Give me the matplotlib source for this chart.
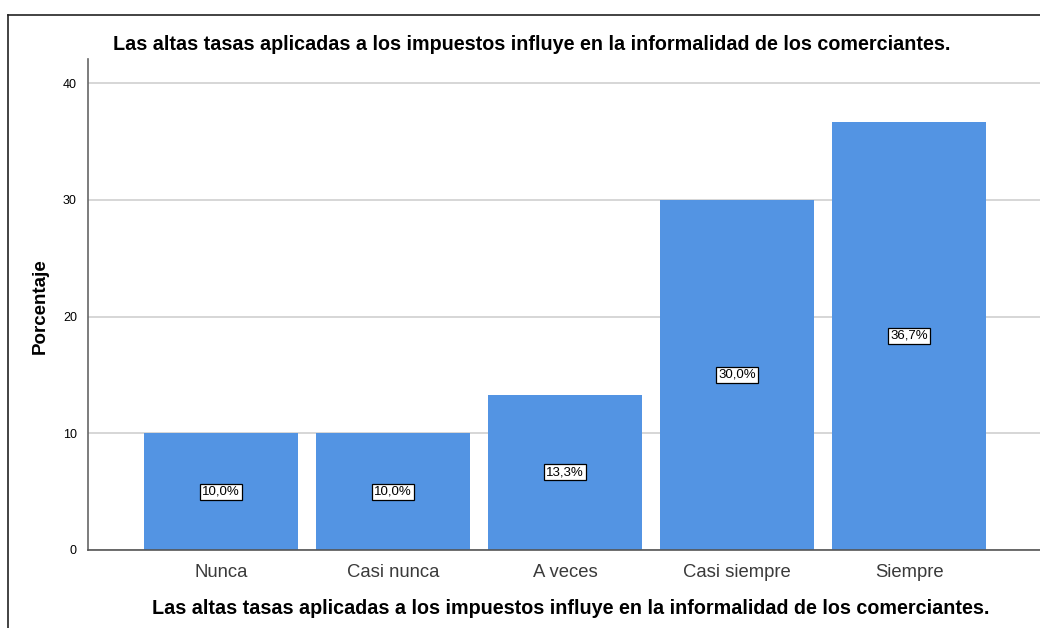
import matplotlib
matplotlib.use("Agg")
import matplotlib.pyplot as plt
from matplotlib.lines import Line2D

categories = ["Nunca", "Casi nunca", "A veces", "Casi siempre", "Siempre"]
values = [10.0, 10.0, 13.3, 30.0, 36.7]
labels = ["10,0%", "10,0%", "13,3%", "30,0%", "36,7%"]
yticks = [0, 10, 20, 30, 40]
title = "Las altas tasas aplicadas a los impuestos influye en la informalidad de los comerciantes."

plt.rcParams['font.family'] = ['Liberation Sans', 'DejaVu Sans']

fig = plt.figure(figsize=(10.4, 6.28), dpi=100)
ax = fig.add_axes([88/1040, 1 - 550/628, 1 - 88/1040, (550 - 59)/628])

x = list(range(len(categories)))
ax.bar(x, values, width=0.895, color="#5394E3", zorder=2)
for xi, v, lab in zip(x, values, labels):
    ax.text(xi, v/2, lab, ha="center", va="center", fontsize=9.5, color="black", zorder=3,
            bbox=dict(boxstyle="square,pad=0.15", fc="white", ec="black", lw=0.9))

ax.set_xlim(-0.773, 4.76)
ax.set_ylim(0, 42.06)
ax.set_yticks(yticks)
ax.set_yticklabels([str(t) for t in yticks], fontsize=9)
ax.set_xticks(x)
ax.set_xticklabels(categories, fontsize=13.3, color="#3a3a3a")
ax.tick_params(axis="x", length=0, pad=10)
ax.tick_params(axis="y", length=0, pad=8)
ax.yaxis.grid(True, color="#cfcfcf", lw=1.2, zorder=0)
ax.set_axisbelow(True)
for s in ["top", "right"]:
    ax.spines[s].set_visible(False)
ax.spines["left"].set_color("#666666")
ax.spines["bottom"].set_color("#555555")
ax.spines["left"].set_linewidth(1.2)
ax.spines["bottom"].set_linewidth(1.2)

fig.text(40/1040, 1 - 306/628, "Porcentaje", rotation=90, ha="center", va="center",
         fontsize=13.5, fontweight="bold")
fig.text(531.5/1040, 1 - 44/628, title, ha="center", va="center", fontsize=14.2, fontweight="bold")
fig.text(571/1040, 1 - 608/628, title, ha="center", va="center", fontsize=14.2, fontweight="bold")

# outer frame
fig.add_artist(Line2D([8/1040, 1.0], [1 - 15/628, 1 - 15/628], transform=fig.transFigure, color="#222222", lw=1.2))
fig.add_artist(Line2D([8/1040, 8/1040], [1 - 15/628, 0.0], transform=fig.transFigure, color="#222222", lw=1.2))

fig.savefig("out.png", dpi=100)
